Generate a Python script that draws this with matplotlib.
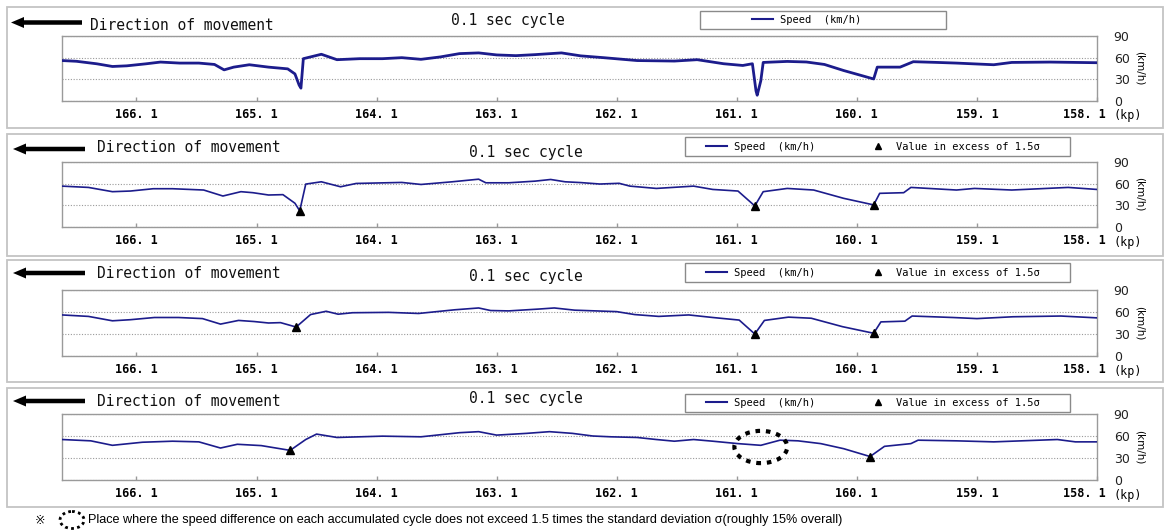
import matplotlib
matplotlib.use("Agg")
import matplotlib.pyplot as plt
import matplotlib.transforms as mtransforms
from matplotlib.patches import Rectangle, Ellipse, FancyArrow
from matplotlib.lines import Line2D

# ---- data ----
kp_ticks = [166.1, 165.1, 164.1, 163.1, 162.1, 161.1, 160.1, 159.1, 158.1]
kp_labels = ["166. 1", "165. 1", "164. 1", "163. 1", "162. 1", "161. 1", "160. 1", "159. 1", "158. 1"]
speed_ticks = [0, 30, 60, 90]

# panel 1: raw 0.1 sec data
kp1 = [166.72, 166.60, 166.43, 166.30, 166.18, 166.02, 165.90, 165.74, 165.58, 165.45,
       165.37, 165.29, 165.16, 165.00, 164.84, 164.78, 164.745, 164.73, 164.71, 164.56,
       164.43, 164.24, 164.05, 163.89, 163.73, 163.57, 163.41, 163.25, 163.10, 162.94,
       162.78, 162.56, 162.40, 162.21, 161.93, 161.62, 161.43, 161.21, 161.05, 160.97,
       160.94, 160.93, 160.90, 160.88, 160.68, 160.52, 160.37, 160.21, 160.09, 159.96,
       159.93, 159.74, 159.63, 159.43, 159.27, 158.96, 158.81, 158.49, 158.10]
spd1 = [56.0, 55.0, 51.5, 47.8, 48.7, 51.5, 53.9, 52.5, 52.5, 50.6,
        43.1, 46.9, 50.2, 46.9, 44.5, 37.5, 22.0, 17.8, 58.6, 64.7,
        57.2, 58.6, 58.6, 60.0, 57.7, 61.0, 65.6, 66.6, 63.8, 62.8,
        64.2, 66.6, 62.5, 60.0, 56.0, 55.3, 57.2, 51.6, 49.2, 51.6,
        14.0, 8.0, 28.0, 53.4, 54.8, 54.0, 50.6, 42.2, 36.6, 30.5,
        46.9, 46.9, 54.4, 53.4, 52.5, 50.2, 53.4, 53.9, 53.0]

# panel 2
kp2 = [166.72, 166.50, 166.30, 166.15, 165.96, 165.80, 165.54, 165.38, 165.23, 165.13,
       165.00, 164.88, 164.78, 164.74, 164.69, 164.56, 164.40, 164.27, 163.89, 163.73,
       163.47, 163.25, 163.19, 163.00, 162.78, 162.65, 162.53, 162.40, 162.24, 162.08,
       161.99, 161.77, 161.46, 161.30, 161.09, 160.95, 160.88, 160.68, 160.46, 160.21,
       159.96, 159.91, 159.71, 159.65, 159.27, 159.12, 158.81, 158.34, 158.10]
spd2 = [56.6, 54.8, 48.9, 49.8, 53.0, 53.0, 51.2, 42.9, 48.9, 47.5,
        44.3, 44.8, 32.9, 22.4, 59.4, 62.6, 55.7, 60.3, 61.7, 58.9,
        62.6, 66.2, 61.2, 61.2, 63.5, 65.8, 62.6, 61.5, 59.5, 60.5,
        56.6, 53.4, 56.6, 52.0, 49.8, 29.2, 48.9, 53.4, 51.2, 39.7,
        30.6, 46.6, 47.5, 54.8, 51.2, 53.4, 51.2, 54.8, 52.0]
mk_kp2 = [164.74, 160.95, 159.96]
mk_spd2 = [22.4, 29.2, 30.6]

# panel 3
kp3 = [166.72, 166.50, 166.30, 166.15, 165.95, 165.75, 165.55, 165.40, 165.25, 165.12,
       165.00, 164.90, 164.77, 164.65, 164.52, 164.42, 164.30, 164.00, 163.75, 163.45,
       163.25, 163.15, 163.00, 162.75, 162.62, 162.45, 162.10, 161.95, 161.75, 161.50,
       161.30, 161.08, 160.95, 160.87, 160.67, 160.48, 160.22, 159.96, 159.90, 159.70,
       159.64, 159.30, 159.10, 158.80, 158.40, 158.10]
spd3 = [56.0, 54.0, 48.0, 49.5, 52.5, 52.5, 51.0, 43.5, 48.5, 47.0,
        45.0, 45.5, 39.5, 56.5, 61.0, 57.0, 59.0, 59.5, 58.0, 63.0,
        65.5, 62.0, 61.5, 64.0, 65.5, 62.5, 60.5, 56.5, 54.0, 56.0,
        52.5, 49.0, 30.0, 48.5, 53.0, 51.5, 40.0, 31.0, 46.5, 47.5,
        54.5, 52.5, 51.0, 53.5, 54.5, 52.0]
mk_kp3 = [164.77, 160.95, 159.96]
mk_spd3 = [39.5, 30.0, 31.0]

# panel 4
kp4 = [166.72, 166.48, 166.30, 166.05, 165.80, 165.58, 165.40, 165.26, 165.06, 164.82,
       164.69, 164.60, 164.43, 164.05, 163.73, 163.41, 163.25, 163.10, 162.85, 162.66,
       162.47, 162.30, 162.15, 161.93, 161.77, 161.62, 161.46, 161.30, 161.09, 160.90,
       160.74, 160.59, 160.40, 160.21, 159.99, 159.87, 159.65, 159.59, 159.27, 158.96,
       158.43, 158.28, 158.10]
spd4 = [55.2, 53.4, 47.3, 51.5, 52.9, 52.0, 43.6, 48.7, 46.9, 40.4,
        55.2, 62.6, 58.0, 59.8, 58.9, 64.5, 65.9, 61.2, 63.6, 65.9,
        63.6, 60.0, 58.9, 58.0, 55.2, 52.9, 55.2, 52.9, 49.6, 47.3,
        54.3, 53.4, 49.6, 42.7, 32.0, 45.9, 49.6, 54.3, 53.4, 52.0,
        55.2, 52.0, 52.0]
mk_kp4 = [164.82, 159.99]
mk_spd4 = [40.4, 32.0]

# spot circled in panel 4 (centre kp, centre speed, width kp, height km/h)
circle_spot = (160.9, 45.0, 0.44, 44.0)

footnote = ("Place where the speed difference on each accumulated cycle does not exceed "
            "1.5 times the standard deviation \u03c3(roughly 15% overall)")

# ---- layout (pixels in the 1168x532 picture) ----
W, H = 1168, 532
panels = [
    # box top/bottom, axes top/bottom, arrow (x tail, x head, y), direction text, cycle text, legend box
    dict(box=(7, 128), ax=(36, 101), arrow=(82, 11, 22.5), dtext=(90, 25), ctext=(508, 21), leg=(700, 946, 11, 29)),
    dict(box=(134, 256), ax=(162, 227), arrow=(85, 13, 149), dtext=(97, 148), ctext=(526, 153), leg=(685, 1070, 137, 156)),
    dict(box=(260, 382), ax=(290, 356), arrow=(85, 13, 273), dtext=(97, 273), ctext=(526, 277), leg=(685, 1070, 263, 282)),
    dict(box=(388, 507), ax=(414, 480), arrow=(85, 13, 401), dtext=(97, 402), ctext=(526, 399), leg=(685, 1070, 394, 412)),
]
series = [(kp1, spd1, None, None), (kp2, spd2, mk_kp2, mk_spd2),
          (kp3, spd3, mk_kp3, mk_spd3), (kp4, spd4, mk_kp4, mk_spd4)]

LINE_COL = "#1c1c8c"
GRAY = "#9a9a9a"
MONO = "DejaVu Sans Mono"

fig = plt.figure(figsize=(W / 100, H / 100), dpi=100)
fig.patch.set_facecolor("white")

# background axes in pixel units for boxes, arrows and free text
bg = fig.add_axes([0, 0, 1, 1])
bg.set_xlim(0, W)
bg.set_ylim(H, 0)
bg.axis("off")


def px_rect(left, top, right, bottom):
    return [left / W, 1 - bottom / H, (right - left) / W, (bottom - top) / H]


for i, (p, (kp, spd, mkx, mky)) in enumerate(zip(panels, series)):
    # outer panel box
    bt, bb = p["box"]
    bg.add_patch(Rectangle((7, bt), 1156, bb - bt, fill=False, ec="#c4c4c4", lw=1.3))

    # direction arrow + texts
    x1, x0, ay = p["arrow"]
    bg.add_patch(FancyArrow(x1, ay, x0 - x1, 0, width=4.5, head_width=11, head_length=13,
                            length_includes_head=True, color="black", lw=0))
    bg.text(p["dtext"][0], p["dtext"][1], "Direction of movement", ha="left", va="center",
            family=MONO, fontsize=10.5, color="#111111")
    bg.text(p["ctext"][0], p["ctext"][1], "0.1 sec cycle", ha="center", va="center",
            family=MONO, fontsize=10.5, color="#111111")

    # legend frame
    lx0, lx1, ly0, ly1 = p["leg"]
    bg.add_patch(Rectangle((lx0, ly0), lx1 - lx0, ly1 - ly0, fill=False, ec="#8a8a8a", lw=1))

    # data axes
    at, ab = p["ax"]
    ax = fig.add_axes(px_rect(62, at, 1097, ab))
    ax.plot(kp, spd, color=LINE_COL, lw=2.0 if i == 0 else 1.2, zorder=3)
    if mkx is not None:
        ax.plot(mkx, mky, ls="none", marker="^", color="black", ms=5.5, zorder=4)
    if i == 3:
        cx, cy, cw, ch = circle_spot
        ax.add_patch(Ellipse((cx, cy), cw, ch, fill=False, ec="black", lw=3,
                             ls=(0, (1.1, 1.4)), zorder=5))

    ax.set_xlim(166.72, 158.1)
    ax.set_ylim(0, 90)
    ax.set_xticks(kp_ticks)
    ax.set_xticklabels(kp_labels, family=MONO, fontweight="bold", fontsize=8.5)
    ax.tick_params(axis="x", direction="in", length=3, width=1, color=GRAY, pad=5)
    ax.yaxis.tick_right()
    ax.set_yticks(speed_ticks)
    ax.tick_params(axis="y", length=0, pad=12, labelsize=9, labelcolor="#222222")
    ax.yaxis.set_label_position("right")
    ax.set_ylabel("(km/h)", rotation=-90, fontsize=7.5, labelpad=4, va="bottom")
    ax.grid(axis="y", color=GRAY, ls=(0, (1, 1.5)), lw=0.8)
    for s in ax.spines.values():
        s.set_color(GRAY)
        s.set_linewidth(1)

    # last tick label moved left, followed by "(kp)"
    last = ax.get_xticklabels()[-1]
    last.set_transform(last.get_transform() +
                       mtransforms.ScaledTranslation(-0.13, 0, fig.dpi_scale_trans))
    ax.text(1.0, 0.0, "(kp)", family=MONO, fontsize=8.5, ha="left", va="center",
            transform=ax.transAxes + mtransforms.ScaledTranslation(0.16, -0.15, fig.dpi_scale_trans))

    # legend (frame drawn above)
    handles = [Line2D([], [], color=LINE_COL, lw=1.5, label="Speed  (km/h)")]
    if i > 0:
        handles.append(Line2D([], [], ls="none", marker="^", color="black", ms=5,
                              label="Value in excess of 1.5\u03c3"))
        anchor_x = 706
    else:
        anchor_x = 752
    ax.legend(handles=handles, loc="center left",
              bbox_to_anchor=(anchor_x / W, 1 - ((ly0 + ly1) / 2) / H),
              bbox_transform=fig.transFigure, ncol=2, frameon=False,
              prop=dict(family=MONO, size=7.5), handlelength=2, handletextpad=0.7,
              columnspacing=5.0, borderpad=0, borderaxespad=0)

# footnote
bg.text(40, 520, "\u203b", ha="center", va="center", fontsize=9,
        family=["DejaVu Sans", "Noto Sans CJK JP"])
bg.add_patch(Ellipse((72, 520), 24, 17, fill=False, ec="black", lw=2, ls=(0, (1, 1.2))))
bg.text(88, 520, footnote, ha="left", va="center", fontsize=9.1, family="Liberation Sans")

fig.savefig("out.png", dpi=100, facecolor="white")
